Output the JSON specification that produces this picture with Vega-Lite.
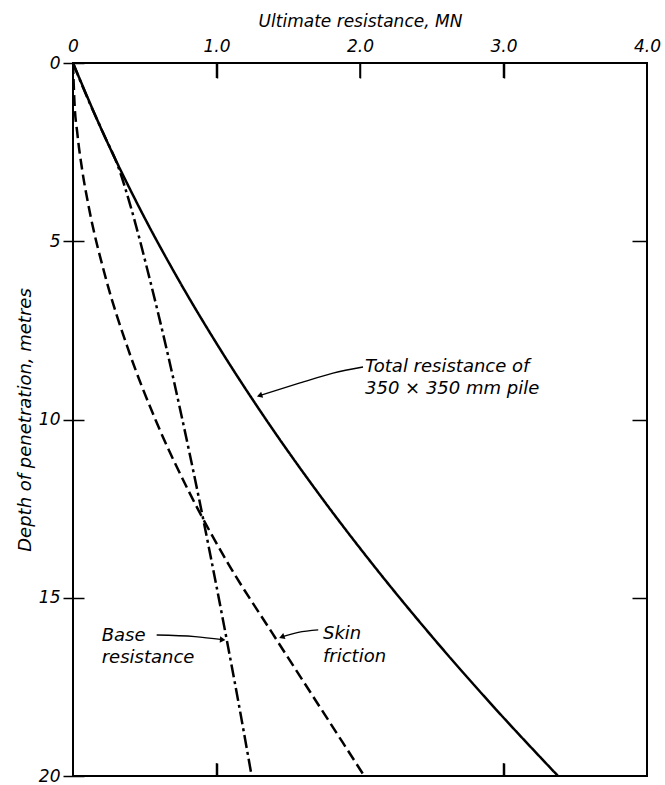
{
  "$schema": "https://vega.github.io/schema/vega-lite/v6.json",
  "autosize": {"type": "none"},
  "padding": {"left": 73, "top": 63, "right": 18, "bottom": 9},
  "width": 574,
  "height": 713,
  "background": "white",
  "config": {
    "view": {"stroke": "black", "strokeWidth": 2},
    "font": "DejaVu Sans",
    "axis": {"labelFontStyle": "italic", "titleFontStyle": "italic", "labelFont": "DejaVu Sans", "titleFont": "DejaVu Sans", "labelColor": "black", "titleColor": "black", "tickColor": "black", "tickWidth": 1.5, "domain": false, "labelFontSize": 17, "titleFontSize": 17, "titleFontWeight": "normal", "grid": false}
  },
  "datasets": {
    "curves": [
      {"series": "Total", "depth": 0, "r": 0},
      {"series": "Total", "depth": 2, "r": 0.214},
      {"series": "Total", "depth": 4, "r": 0.455},
      {"series": "Total", "depth": 6, "r": 0.724},
      {"series": "Total", "depth": 8, "r": 1.021},
      {"series": "Total", "depth": 10, "r": 1.345},
      {"series": "Total", "depth": 12, "r": 1.697},
      {"series": "Total", "depth": 14, "r": 2.076},
      {"series": "Total", "depth": 16, "r": 2.483},
      {"series": "Total", "depth": 18, "r": 2.918},
      {"series": "Total", "depth": 20, "r": 3.38},
      {"series": "Base", "depth": 0, "r": 0},
      {"series": "Base", "depth": 1, "r": 0.103},
      {"series": "Base", "depth": 2, "r": 0.214},
      {"series": "Base", "depth": 2.92, "r": 0.316},
      {"series": "Base", "depth": 4, "r": 0.40},
      {"series": "Base", "depth": 6, "r": 0.531},
      {"series": "Base", "depth": 8, "r": 0.651},
      {"series": "Base", "depth": 10, "r": 0.762},
      {"series": "Base", "depth": 12, "r": 0.867},
      {"series": "Base", "depth": 14, "r": 0.967},
      {"series": "Base", "depth": 16, "r": 1.063},
      {"series": "Base", "depth": 18, "r": 1.156},
      {"series": "Base", "depth": 20, "r": 1.245},
      {"series": "Skin", "depth": 0, "r": 0},
      {"series": "Skin", "depth": 1, "r": 0.009},
      {"series": "Skin", "depth": 2, "r": 0.031},
      {"series": "Skin", "depth": 3, "r": 0.064},
      {"series": "Skin", "depth": 4, "r": 0.108},
      {"series": "Skin", "depth": 6, "r": 0.226},
      {"series": "Skin", "depth": 8, "r": 0.382},
      {"series": "Skin", "depth": 10, "r": 0.574},
      {"series": "Skin", "depth": 12, "r": 0.805},
      {"series": "Skin", "depth": 14, "r": 1.075},
      {"series": "Skin", "depth": 16, "r": 1.39},
      {"series": "Skin", "depth": 18, "r": 1.71},
      {"series": "Skin", "depth": 20, "r": 2.03}
    ],
    "arrows": [
      {"id": "total", "depth": 8.527, "r": 2.021, "o": 0},
      {"id": "total", "depth": 8.696, "r": 1.812, "o": 1},
      {"id": "total", "depth": 8.976, "r": 1.582, "o": 2},
      {"id": "total", "depth": 9.33, "r": 1.30, "o": 3},
      {"id": "base", "depth": 16.045, "r": 0.583, "o": 0},
      {"id": "base", "depth": 16.09, "r": 0.85, "o": 1},
      {"id": "base", "depth": 16.177, "r": 1.043, "o": 2},
      {"id": "skin", "depth": 15.9, "r": 1.709, "o": 0},
      {"id": "skin", "depth": 15.97, "r": 1.57, "o": 1},
      {"id": "skin", "depth": 16.1, "r": 1.455, "o": 2}
    ],
    "heads": [
      {"depth": 9.33, "r": 1.30, "ang": 252},
      {"depth": 16.177, "r": 1.043, "ang": 94},
      {"depth": 16.1, "r": 1.455, "ang": 250}
    ],
    "labels": [
      {"depth": 8.53, "r": 2.035, "t": "Total resistance of"},
      {"depth": 9.15, "r": 2.035, "t": "350 × 350 mm pile"},
      {"depth": 16.08, "r": 0.2, "t": "Base"},
      {"depth": 16.7, "r": 0.2, "t": "resistance"},
      {"depth": 16.03, "r": 1.742, "t": "Skin"},
      {"depth": 16.65, "r": 1.742, "t": "friction"}
    ],
    "xticks": [
      {"r": 1, "from": 0, "to": 0.42},
      {"r": 2, "from": 0, "to": 0.42},
      {"r": 3, "from": 0, "to": 0.42},
      {"r": 1, "from": 19.64, "to": 20},
      {"r": 3, "from": 19.64, "to": 20}
    ]
  },
  "layer": [
    {
      "data": {"name": "curves"},
      "mark": {"type": "line", "strokeWidth": 2.5, "color": "black", "clip": true, "interpolate": "monotone"},
      "encoding": {
        "x": {"field": "r", "type": "quantitative", "scale": {"domain": [0, 4], "nice": false}, "axis": {"orient": "top", "ticks": false, "title": "Ultimate resistance, MN", "values": [0, 1, 2, 3, 4], "labelExpr": "datum.value == 0 ? '0' : format(datum.value, '.1f')", "labelPadding": 8, "titlePadding": 7, "labelFlush": false}},
        "y": {"field": "depth", "type": "quantitative", "scale": {"domain": [0, 20], "reverse": true, "nice": false}, "axis": {"orient": "left", "offset": -11, "tickSize": 21, "title": "Depth of penetration, metres", "titleFontSize": 18, "values": [0, 5, 10, 15, 20], "labelPadding": 3, "titlePadding": 4, "labelFlush": false}},
        "strokeDash": {"field": "series", "type": "nominal", "scale": {"domain": ["Total", "Base", "Skin"], "range": [[1, 0], [13, 4, 3, 4], [11, 5]]}, "legend": null},
        "detail": {"field": "series"}
      }
    },
    {
      "data": {"name": "arrows"},
      "mark": {"type": "line", "strokeWidth": 1.3, "color": "black", "interpolate": "monotone"},
      "encoding": {
        "x": {"field": "r", "type": "quantitative", "axis": {"orient": "bottom", "offset": -13, "tickSize": 13, "tickWidth": 1.5, "labels": false, "title": null, "values": [1, 3]}},
        "y": {"field": "depth", "type": "quantitative", "axis": {"orient": "right", "offset": -15, "tickSize": 15, "labels": false, "title": null, "values": [5, 10, 15]}},
        "detail": {"field": "id"},
        "order": {"field": "o"}
      }
    },
    {
      "data": {"name": "xticks"},
      "mark": {"type": "rule", "strokeWidth": 1.5, "color": "black"},
      "encoding": {
        "x": {"field": "r", "type": "quantitative", "axis": null},
        "y": {"field": "from", "type": "quantitative", "axis": null},
        "y2": {"field": "to"}
      }
    },
    {
      "data": {"name": "heads"},
      "mark": {"type": "point", "shape": "triangle-up", "filled": true, "color": "black", "size": 40, "opacity": 1},
      "encoding": {
        "x": {"field": "r", "type": "quantitative", "axis": {"orient": "top", "offset": -15, "tickSize": 15, "tickWidth": 1.5, "labels": false, "title": null, "values": [1, 2, 3]}},
        "y": {"field": "depth", "type": "quantitative", "axis": null},
        "angle": {"field": "ang", "type": "quantitative", "scale": null}
      }
    },
    {
      "data": {"name": "labels"},
      "mark": {"type": "text", "align": "left", "baseline": "middle", "fontStyle": "italic", "fontSize": 18, "font": "DejaVu Sans", "color": "black"},
      "encoding": {
        "x": {"field": "r", "type": "quantitative", "axis": null},
        "y": {"field": "depth", "type": "quantitative", "axis": null},
        "text": {"field": "t"}
      }
    }
  ],
  "resolve": {"axis": {"x": "independent", "y": "independent"}}
}
